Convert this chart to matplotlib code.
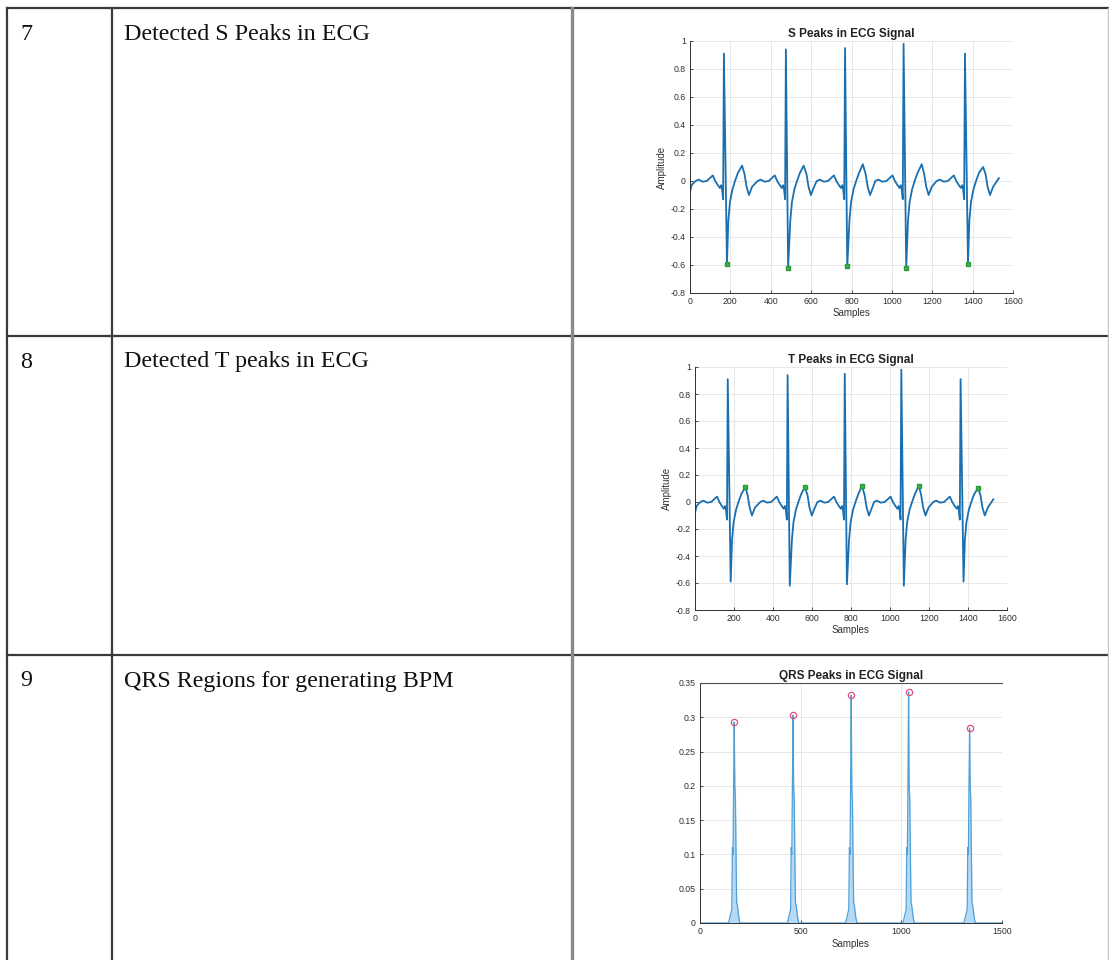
import matplotlib
matplotlib.use("Agg")
import matplotlib.pyplot as plt
from matplotlib.lines import Line2D

FIG_W, FIG_H = 1109, 960

# Table content
row_numbers = ["7", "8", "9"]
row_captions = ["Detected S Peaks in ECG", "Detected T peaks in ECG",
                "QRS Regions for generating BPM"]

# ECG beats: R, S and T peak positions (samples) and amplitudes
r_locs = [168, 475, 768, 1058, 1362]
r_amps = [0.91, 0.94, 0.95, 0.98, 0.91]
s_locs = [183, 486, 779, 1071, 1377]
s_amps = [-0.59, -0.62, -0.61, -0.62, -0.59]
t_locs = [258, 563, 856, 1148, 1452]
t_amps = [0.11, 0.11, 0.12, 0.12, 0.10]

# Remaining waveform points of a beat, relative to its R peak
wave_offsets = [-140, -125, -105, -85, -70, -55, -43, -30, -20, -14, -9, -4,
                22, 30, 42, 55, 70, 102, 112, 124, 140]
wave_levels = [0.0, 0.01, -0.005, 0.0, 0.02, 0.04, 0.0, -0.03, -0.05, -0.03,
               -0.06, -0.13, -0.28, -0.15, -0.06, 0.0, 0.06, 0.05, -0.04,
               -0.10, -0.04]

# Start and end of the recorded trace
lead_in_samples = [0, 8, 20]
lead_in_levels = [-0.08, -0.03, -0.01]
lead_out_samples = [1530]
lead_out_levels = [0.02]

# QRS energy envelope: detected peaks and spike shape around each peak
qrs_locs = [170, 462, 751, 1036, 1339]
qrs_amps = [0.293, 0.303, 0.332, 0.337, 0.284]
qrs_offsets = [-28, -20, -12, -9, -6, -3, 3, 6, 9, 12, 16, 22, 28]
qrs_levels = [0.0, 0.01, 0.02, 0.11, 0.10, 0.20, 0.20, 0.18, 0.10, 0.03,
              0.025, 0.01, 0.0]
qrs_span = [0, 1530]

# Axis ticks
ecg_xticks = [0, 200, 400, 600, 800, 1000, 1200, 1400, 1600]
ecg_yticks = [-0.8, -0.6, -0.4, -0.2, 0, 0.2, 0.4, 0.6, 0.8, 1]
qrs_xticks = [0, 500, 1000, 1500]
qrs_yticks = [0, 0.05, 0.1, 0.15, 0.2, 0.25, 0.3, 0.35]


def build_ecg():
    pts = list(zip(lead_in_samples, lead_in_levels))
    for r, ra, s, sa, t, ta in zip(r_locs, r_amps, s_locs, s_amps, t_locs, t_amps):
        pts += [(r + o, v) for o, v in zip(wave_offsets, wave_levels)]
        pts += [(r, ra), (s, sa), (t, ta)]
    pts += list(zip(lead_out_samples, lead_out_levels))
    pts.sort()
    return [p[0] for p in pts], [p[1] for p in pts]


def build_qrs():
    pts = [(qrs_span[0], 0.0), (qrs_span[1], 0.0)]
    for q, a in zip(qrs_locs, qrs_amps):
        pts += [(q + o, v) for o, v in zip(qrs_offsets, qrs_levels)]
        pts.append((q, a))
    pts.sort()
    return [p[0] for p in pts], [p[1] for p in pts]


def fmt(v):
    s = f"{v:.2f}".rstrip("0").rstrip(".")
    return "0" if s in ("-0", "0") else s


plt.rcParams["font.family"] = ["Liberation Sans", "DejaVu Sans"]

fig = plt.figure(figsize=(FIG_W / 100, FIG_H / 100), dpi=100)
fig.patch.set_facecolor("white")


def fx(px):
    return px / FIG_W


def fy(py):
    return 1 - py / FIG_H


# Table grid
grid_col = "#3a3a3a"
col_x = [7, 112, 572, 1107.5]
row_y = [8, 336, 655]
for y in row_y:
    fig.add_artist(Line2D([fx(7), fx(1109)], [fy(y), fy(y)], color=grid_col, lw=1.6))
for i, x in enumerate(col_x):
    c = "#8a8a8a" if i == 2 else grid_col
    lw = 2.4 if i == 2 else 1.6
    if i == 3:
        c, lw = "#c8c8c8", 1.0
    fig.add_artist(Line2D([fx(x), fx(x)], [fy(8), fy(FIG_H)], color=c, lw=lw))

for y, num, cap in zip(row_y, row_numbers, row_captions):
    fig.text(fx(20), fy(y + 31.5), num, family="Liberation Serif", fontsize=17.3,
             va="baseline", ha="left", color="#111111")
    fig.text(fx(124), fy(y + 31.5), cap, family="Liberation Serif", fontsize=17.3,
             va="baseline", ha="left", color="#111111")


def style_axes(ax, box_top=False):
    ax.set_facecolor("white")
    ax.grid(True, color="#e4e4e4", lw=0.6)
    ax.set_axisbelow(True)
    ax.tick_params(direction="in", length=2, width=0.6, labelsize=6.3,
                   colors="#303030", pad=3)
    for side in ("left", "bottom"):
        ax.spines[side].set_color("#303030")
        ax.spines[side].set_linewidth(0.7)
    ax.spines["right"].set_visible(False)
    if box_top:
        ax.spines["top"].set_color("#505050")
        ax.spines["top"].set_linewidth(0.8)
    else:
        ax.spines["top"].set_visible(False)


ecg_x, ecg_y = build_ecg()
ecg_color = "#1a6fb0"

# S peaks chart
ax1 = fig.add_axes([fx(690), fy(293), fx(1013) - fx(690), fy(41) - fy(293)])
ax1.plot(ecg_x, ecg_y, color=ecg_color, lw=1.3)
ax1.plot(s_locs, s_amps, "s", color="#3cb44b", ms=3.5, mec="#2a9a3a")
ax1.set_xlim(0, 1600)
ax1.set_ylim(-0.8, 1)
ax1.set_xticks(ecg_xticks, [fmt(v) for v in ecg_xticks])
ax1.set_yticks(ecg_yticks, [fmt(v) for v in ecg_yticks])
ax1.set_title("S Peaks in ECG Signal", fontsize=8.5, fontweight="bold", pad=3,
              color="#222222")
ax1.set_xlabel("Samples", fontsize=7, labelpad=1, color="#333333")
ax1.set_ylabel("Amplitude", fontsize=7, labelpad=3, color="#333333")
style_axes(ax1)

# T peaks chart
ax2 = fig.add_axes([fx(695), fy(610), fx(1007) - fx(695), fy(367) - fy(610)])
ax2.plot(ecg_x, ecg_y, color=ecg_color, lw=1.3)
ax2.plot(t_locs, t_amps, "s", color="#3cb44b", ms=3.5, mec="#2a9a3a")
ax2.set_xlim(0, 1600)
ax2.set_ylim(-0.8, 1)
ax2.set_xticks(ecg_xticks, [fmt(v) for v in ecg_xticks])
ax2.set_yticks(ecg_yticks, [fmt(v) for v in ecg_yticks])
ax2.set_title("T Peaks in ECG Signal", fontsize=8.5, fontweight="bold", pad=3,
              color="#222222")
ax2.set_xlabel("Samples", fontsize=7, labelpad=1, color="#333333")
ax2.set_ylabel("Amplitude", fontsize=7, labelpad=3, color="#333333")
style_axes(ax2)

# QRS energy chart
qx, qy = build_qrs()
ax3 = fig.add_axes([fx(700), fy(923), fx(1002) - fx(700), fy(683) - fy(923)])
ax3.fill_between(qx, qy, 0, color="#b5dbf4", lw=0)
ax3.plot(qx, qy, color="#4f9fd8", lw=0.9)
ax3.plot(qrs_locs, qrs_amps, "o", mfc="none", mec="#e0507a", ms=4.5, mew=0.9)
ax3.set_xlim(0, 1500)
ax3.set_ylim(0, 0.35)
ax3.set_xticks(qrs_xticks, [fmt(v) for v in qrs_xticks])
ax3.set_yticks(qrs_yticks, [fmt(v) for v in qrs_yticks])
ax3.set_title("QRS Peaks in ECG Signal", fontsize=8.5, fontweight="bold", pad=3,
              color="#222222")
ax3.set_xlabel("Samples", fontsize=7, labelpad=2, color="#333333")
style_axes(ax3, box_top=True)

fig.savefig("out.png", dpi=100)
